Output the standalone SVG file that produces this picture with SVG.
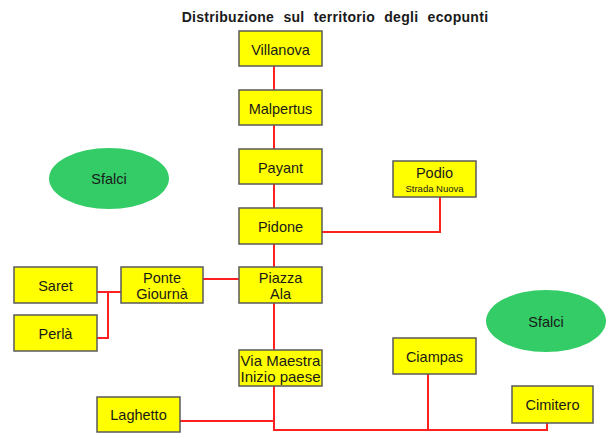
<svg xmlns="http://www.w3.org/2000/svg" width="606" height="434" viewBox="0 0 606 434">
<style>
.box{fill:#FFFF00;stroke:#5a5a5a;stroke-width:1.5}
.ell{fill:#33CC66}
.t{font-family:"Liberation Sans",Arial,sans-serif;font-size:14.5px;fill:#1a1a1a;text-anchor:middle}
.s{font-size:9.5px}
.v{font-size:15px}
.ttl{font-family:"Liberation Sans",Arial,sans-serif;font-size:14px;font-weight:bold;fill:#1a1a1a;text-anchor:middle;letter-spacing:0.3px;word-spacing:5px}
.c{fill:none;stroke:#FF2020;stroke-width:2}
</style>
<rect width="606" height="434" fill="#ffffff"/>
<text class="ttl" x="335" y="22">Distribuzione sul territorio degli ecopunti</text>
<g id="connectors">
<path class="c" d="M274 66 V430 H547 V423"/>
<path class="c" d="M428 374 V430"/>
<path class="c" d="M180 421 H274"/>
<path class="c" d="M322 232 H440 V197"/>
<path class="c" d="M203 279 H239"/>
<path class="c" d="M97 292 H121"/>
<path class="c" d="M108 292 V338 H97"/>
</g>
<g id="sfalci1"><ellipse class="ell" cx="109" cy="178.5" rx="60" ry="30.5"/><text class="t" x="109" y="184">Sfalci</text></g>
<g id="sfalci2"><ellipse class="ell" cx="546" cy="321" rx="60" ry="31"/><text class="t" x="546" y="327">Sfalci</text></g>
<g id="villanova"><rect class="box" x="239" y="31" width="83" height="35"/><text class="t" x="280.5" y="54.5">Villanova</text></g>
<g id="malpertus"><rect class="box" x="239" y="90" width="83" height="35"/><text class="t" x="280.5" y="113.5">Malpertus</text></g>
<g id="payant"><rect class="box" x="239" y="149" width="83" height="35"/><text class="t" x="280.5" y="172.5">Payant</text></g>
<g id="pidone"><rect class="box" x="239" y="208" width="83" height="36"/><text class="t" x="280.5" y="232">Pidone</text></g>
<g id="piazza"><rect class="box" x="239" y="267" width="83" height="36"/><text class="t" x="280.5" y="283">Piazza</text><text class="t" x="280.5" y="299">Ala</text></g>
<g id="viamaestra"><rect class="box" x="239" y="350" width="83" height="36"/><text class="t v" x="280.5" y="366">Via Maestra</text><text class="t v" x="280.5" y="382">Inizio paese</text></g>
<g id="laghetto"><rect class="box" x="97" y="397" width="83" height="35"/><text class="t" x="138.5" y="420">Laghetto</text></g>
<g id="saret"><rect class="box" x="14" y="267" width="83" height="36"/><text class="t" x="55.5" y="291">Saret</text></g>
<g id="perla"><rect class="box" x="14" y="315" width="83" height="36"/><text class="t" x="55.5" y="339">Perlà</text></g>
<g id="ponte"><rect class="box" x="121" y="267" width="82" height="36"/><text class="t" x="162" y="283">Ponte</text><text class="t" x="162" y="299">Giournà</text></g>
<g id="podio"><rect class="box" x="393" y="161" width="83" height="36"/><text class="t" x="434.5" y="178">Podio</text><text class="t s" x="434.5" y="191.5">Strada Nuova</text></g>
<g id="ciampas"><rect class="box" x="393" y="338" width="83" height="36"/><text class="t" x="434.5" y="361.5">Ciampas</text></g>
<g id="cimitero"><rect class="box" x="512" y="386" width="81" height="37"/><text class="t" x="552.5" y="410">Cimitero</text></g>
</svg>
